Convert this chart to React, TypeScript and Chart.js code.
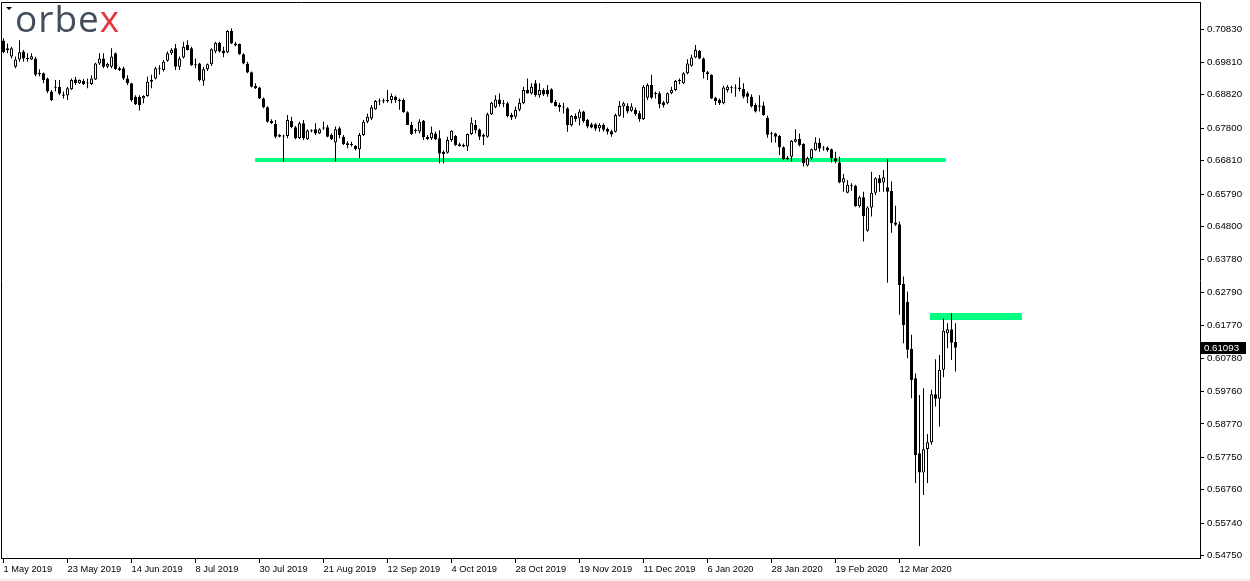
import React, { useEffect, useRef } from 'react';
import { Chart, registerables } from 'chart.js';

Chart.register(...registerables);

// ---- data ----
const xTickIndex = [0, 16, 32, 48, 64, 80, 96, 112, 128, 144, 160, 176, 192, 208, 224];
const xTickLabels = ['1 May 2019', '23 May 2019', '14 Jun 2019', '8 Jul 2019', '30 Jul 2019', '21 Aug 2019', '12 Sep 2019', '4 Oct 2019', '28 Oct 2019', '19 Nov 2019', '11 Dec 2019', '6 Jan 2020', '28 Jan 2020', '19 Feb 2020', '12 Mar 2020'];
const yTicks = [0.5475, 0.5574, 0.5676, 0.5775, 0.5877, 0.5976, 0.6078, 0.6177, 0.6279, 0.6378, 0.648, 0.6579, 0.6681, 0.678, 0.6882, 0.6981, 0.7083];

const open = [
  .7048, .7024, .6999, .6968, .6990, .7014, .6994, .6990, .6993, .6948,
  .6948, .6932, .6892, .6906, .6906, .6882, .6880, .6899, .6929, .6917,
  .6924, .6919, .6915, .6929, .6978, .6993, .6968, .6968, .7009, .6963,
  .6963, .6932, .6917, .6876, .6876, .6871, .6878, .6922, .6932, .6963,
  .6958, .6986, .7009, .7024, .6968, .6996, .7034, .7024, .6973, .6978,
  .6925, .6960, .6975, .7014, .7041, .7017, .7012, .7077, .7039, .7037,
  .7006, .6978, .6951, .6909, .6904, .6871, .6844, .6802, .6793, .6759,
  .6757, .6756, .6802, .6783, .6749, .6795, .6746, .6773, .6777, .6764,
  .6780, .6783, .6759, .6736, .6780, .6754, .6734, .6731, .6726, .6716,
  .6759, .6800, .6810, .6838, .6862, .6864, .6863, .6866, .6876, .6866,
  .6866, .6829, .6790, .6774, .6770, .6803, .6754, .6749, .6764, .6749,
  .6708, .6705, .6744, .6756, .6731, .6729, .6724, .6762, .6790, .6776,
  .6754, .6754, .6823, .6844, .6868, .6856, .6856, .6820, .6815, .6836,
  .6856, .6897, .6886, .6917, .6881, .6897, .6897, .6899, .6861, .6851,
  .6844, .6841, .6789, .6817, .6810, .6831, .6805, .6792, .6792, .6780,
  .6790, .6778, .6771, .6769, .6818, .6846, .6848, .6833, .6836, .6826,
  .6808, .6873, .6912, .6887, .6887, .6859, .6856, .6887, .6897, .6924,
  .6917, .6948, .6971, .6996, .7016, .6993, .6951, .6943, .6873, .6866,
  .6856, .6897, .6904, .6904, .6904, .6900, .6887, .6876, .6851, .6849,
  .6849, .6812, .6764, .6764, .6756, .6722, .6690, .6693, .6739, .6747,
  .6732, .6666, .6688, .6713, .6736, .6721, .6721, .6716, .6688, .6675,
  .6614, .6583, .6605, .6604, .6542, .6569, .6467, .6538, .6583, .6627,
  .6614, .6600, .6588, .6492, .6487, .6304, .6250, .6106, .6016, .5787,
  .5728, .5800, .5820, .5967, .5954, .6042, .6154, .6166, .6127
];
const high = [
  .7055, .7039, .7029, .6999, .7049, .7019, .7009, .7009, .6998, .6960,
  .6950, .6935, .6897, .6927, .6927, .6892, .6907, .6932, .6937, .6929,
  .6930, .6932, .6942, .6980, .7009, .7009, .6980, .7024, .7011, .6968,
  .6968, .6942, .6919, .6881, .6881, .6881, .6937, .6943, .6968, .6973,
  .6988, .7014, .7024, .7037, .6999, .7044, .7049, .7029, .6993, .6980,
  .6968, .6978, .7024, .7044, .7044, .7029, .7080, .7085, .7044, .7039,
  .7009, .6983, .6953, .6917, .6907, .6874, .6847, .6807, .6805, .6762,
  .6760, .6820, .6815, .6787, .6800, .6805, .6777, .6777, .6795, .6780,
  .6800, .6790, .6764, .6785, .6785, .6759, .6740, .6739, .6729, .6765,
  .6805, .6825, .6851, .6866, .6871, .6871, .6897, .6886, .6880, .6871,
  .6871, .6832, .6800, .6779, .6807, .6805, .6759, .6785, .6769, .6774,
  .6713, .6754, .6774, .6759, .6736, .6733, .6764, .6813, .6805, .6779,
  .6764, .6827, .6861, .6881, .6886, .6866, .6861, .6827, .6846, .6871,
  .6907, .6932, .6917, .6927, .6917, .6902, .6912, .6902, .6866, .6858,
  .6858, .6844, .6820, .6825, .6838, .6833, .6808, .6797, .6795, .6795,
  .6795, .6782, .6775, .6825, .6863, .6861, .6856, .6856, .6843, .6833,
  .6912, .6917, .6943, .6892, .6892, .6863, .6889, .6907, .6927, .6932,
  .6951, .6991, .7004, .7034, .7019, .6996, .6955, .6945, .6876, .6871,
  .6910, .6912, .6910, .6914, .6935, .6917, .6892, .6884, .6856, .6881,
  .6861, .6818, .6769, .6766, .6759, .6724, .6695, .6744, .6777, .6764,
  .6734, .6693, .6718, .6752, .6749, .6726, .6724, .6718, .6708, .6693,
  .6640, .6622, .6612, .6607, .6574, .6586, .6542, .6647, .6630, .6637,
  .6652, .6685, .6617, .6543, .6495, .6327, .6281, .6149, .6031, .5965,
  .5986, .5846, .5981, .6074, .6087, .6199, .6184, .6215, .6184
];
const low = [
  .7009, .7009, .6993, .6963, .6983, .6983, .6983, .6988, .6939, .6939,
  .6917, .6887, .6863, .6892, .6881, .6871, .6866, .6897, .6912, .6915,
  .6912, .6902, .6912, .6927, .6973, .6963, .6963, .6963, .6958, .6955,
  .6927, .6912, .6861, .6851, .6834, .6856, .6876, .6902, .6929, .6943,
  .6953, .6983, .7004, .6958, .6958, .6993, .7017, .6970, .6963, .6923,
  .6910, .6955, .6970, .7009, .7011, .6997, .7009, .7037, .7030, .7004,
  .6975, .6948, .6904, .6900, .6869, .6841, .6797, .6793, .6749, .6752,
  .6678, .6749, .6780, .6746, .6747, .6744, .6744, .6768, .6759, .6762,
  .6775, .6752, .6744, .6678, .6749, .6729, .6719, .6724, .6712, .6688,
  .6756, .6795, .6805, .6836, .6851, .6856, .6858, .6856, .6858, .6836,
  .6827, .6790, .6759, .6764, .6764, .6744, .6744, .6744, .6744, .6673,
  .6673, .6703, .6739, .6726, .6724, .6722, .6711, .6759, .6764, .6744,
  .6729, .6751, .6820, .6841, .6846, .6844, .6813, .6805, .6808, .6832,
  .6853, .6886, .6883, .6876, .6873, .6878, .6876, .6856, .6846, .6830,
  .6825, .6769, .6785, .6800, .6788, .6797, .6780, .6780, .6772, .6769,
  .6769, .6761, .6754, .6767, .6815, .6812, .6825, .6830, .6818, .6800,
  .6805, .6866, .6869, .6871, .6841, .6843, .6853, .6884, .6894, .6914,
  .6914, .6945, .6968, .6994, .6991, .6932, .6927, .6869, .6851, .6851,
  .6853, .6890, .6887, .6876, .6892, .6871, .6856, .6843, .6828, .6831,
  .6818, .6751, .6736, .6736, .6698, .6683, .6683, .6678, .6736, .6724,
  .6663, .6663, .6683, .6711, .6708, .6711, .6708, .6675, .6673, .6612,
  .6586, .6581, .6589, .6540, .6538, .6434, .6464, .6510, .6576, .6586,
  .6586, .6308, .6461, .6481, .6210, .6123, .6077, .5955, .5696, .5504,
  .5660, .5696, .5813, .5930, .5869, .6019, .6108, .6072, .6037
];
const close = [
  .7012, .7019, .7024, .6990, .7012, .6993, .6992, .7000, .6943, .6946,
  .6927, .6892, .6866, .6904, .6885, .6880, .6902, .6927, .6917, .6927,
  .6915, .6917, .6932, .6978, .6993, .6968, .6976, .6999, .6960, .6958,
  .6932, .6917, .6866, .6854, .6851, .6878, .6922, .6927, .6963, .6960,
  .6983, .7009, .7019, .6968, .6993, .7029, .7019, .6973, .6975, .6927,
  .6960, .6975, .7021, .7041, .7014, .7009, .7077, .7039, .7033, .7006,
  .6978, .6950, .6907, .6902, .6871, .6844, .6800, .6795, .6754, .6754,
  .6755, .6805, .6783, .6749, .6795, .6749, .6773, .6772, .6764, .6777,
  .6781, .6754, .6746, .6777, .6759, .6732, .6729, .6730, .6716, .6759,
  .6800, .6815, .6844, .6863, .6864, .6863, .6866, .6878, .6866, .6864,
  .6829, .6790, .6762, .6772, .6800, .6752, .6746, .6766, .6746, .6703,
  .6701, .6744, .6772, .6729, .6726, .6724, .6762, .6797, .6774, .6754,
  .6759, .6823, .6858, .6868, .6854, .6854, .6817, .6813, .6836, .6858,
  .6897, .6886, .6907, .6881, .6897, .6883, .6884, .6858, .6848, .6844,
  .6846, .6790, .6818, .6808, .6831, .6802, .6785, .6782, .6778, .6790,
  .6775, .6769, .6761, .6820, .6848, .6856, .6831, .6846, .6823, .6808,
  .6907, .6912, .6873, .6885, .6853, .6851, .6887, .6897, .6924, .6927,
  .6948, .6978, .6996, .7019, .6993, .6951, .6945, .6871, .6863, .6856,
  .6904, .6907, .6903, .6902, .6900, .6876, .6876, .6846, .6831, .6846,
  .6820, .6760, .6762, .6754, .6722, .6685, .6685, .6742, .6746, .6729,
  .6673, .6688, .6716, .6736, .6718, .6718, .6713, .6688, .6678, .6614,
  .6627, .6607, .6604, .6542, .6569, .6512, .6538, .6583, .6627, .6612,
  .6630, .6586, .6490, .6485, .6301, .6179, .6103, .6011, .5782, .5728,
  .5799, .5821, .5967, .5954, .6042, .6161, .6166, .6125, .61093
];

const supportLevel = 0.6683;
const supportFrom = 62.9;
const supportTo = 235.6;
const resistanceLevel = 0.6205;
const resistanceFrom = 231.6;
const resistanceTo = 254.6;

const GREEN = '#00FF7F';

export default function App() {
  const ref = useRef<HTMLCanvasElement | null>(null);

  useEffect(() => {
    const canvas = ref.current;
    if (!canvas) return;

    const bodies = open.map((o, i) => {
      const c = close[i];
      let lo = Math.min(o, c);
      let hi = Math.max(o, c);
      if (hi - lo < 0.0003) {
        const m = (hi + lo) / 2;
        lo = m - 0.00016;
        hi = m + 0.00016;
      }
      return { x: i, y: [lo, hi] };
    });
    const bodyColors = open.map((o, i) => (close[i] >= o ? '#ffffff' : '#000000'));
    const wicks = low.map((l, i) => ({ x: i, y: [l, high[i]] }));

    const decor = {
      id: 'decor',
      beforeDraw(chart: any) {
        const ctx = chart.ctx;
        ctx.save();
        ctx.fillStyle = '#ffffff';
        ctx.fillRect(0, 0, chart.width, chart.height);
        ctx.fillStyle = '#f0f0f0';
        ctx.fillRect(0, 579, chart.width, 2);
        ctx.restore();
      },
      afterDraw(chart: any) {
        const ctx = chart.ctx;
        const a = chart.chartArea;
        ctx.save();
        ctx.strokeStyle = '#000';
        ctx.lineWidth = 1;
        ctx.beginPath();
        ctx.moveTo(a.left + 0.5, a.bottom);
        ctx.lineTo(a.left + 0.5, a.top + 0.5);
        ctx.lineTo(a.right + 1, a.top + 0.5);
        ctx.stroke();

        // one-click triangle
        ctx.fillStyle = '#000';
        ctx.beginPath();
        ctx.moveTo(6, 7);
        ctx.lineTo(12, 7);
        ctx.lineTo(9, 10);
        ctx.closePath();
        ctx.fill();

        // logo
        ctx.font = '400 37px "Open Sans"';
        ctx.textBaseline = 'alphabetic';
        ctx.textAlign = 'left';
        try { (ctx as any).letterSpacing = '1px'; } catch (e) {}
        ctx.fillStyle = '#434e5d';
        const part = 'orbe';
        ctx.fillText(part, 15, 32);
        const w = ctx.measureText(part).width;
        ctx.fillStyle = '#e8323c';
        ctx.fillText('x', 15 + w, 32);
        try { (ctx as any).letterSpacing = '0px'; } catch (e) {}

        // current price label
        const last = close[close.length - 1];
        const y = Math.round(chart.scales.y.getPixelForValue(last));
        ctx.fillStyle = '#000';
        ctx.fillRect(a.right + 1, y - 6, 45, 12);
        ctx.fillStyle = '#fff';
        ctx.font = '9.7px "Liberation Sans"';
        ctx.textBaseline = 'middle';
        ctx.fillText(last.toFixed(5), a.right + 4, y + 0.5);
        ctx.restore();
      },
    };

    const chart = new Chart(canvas, {
      type: 'bar',
      data: {
        datasets: [
          {
            type: 'bar',
            label: 'body',
            data: bodies as any,
            backgroundColor: bodyColors,
            borderColor: '#000',
            borderWidth: 1,
            borderSkipped: false,
            barThickness: 3,
            grouped: false,
            inflateAmount: 0,
            order: 0,
          } as any,
          {
            type: 'bar',
            label: 'wick',
            data: wicks as any,
            backgroundColor: '#000',
            borderWidth: 0,
            barThickness: 1,
            grouped: false,
            inflateAmount: 0,
            order: 1,
          } as any,
          {
            type: 'line',
            label: 'support',
            data: [{ x: supportFrom, y: supportLevel }, { x: supportTo, y: supportLevel }],
            borderColor: GREEN,
            borderWidth: 4,
            pointRadius: 0,
            order: 2,
          } as any,
          {
            type: 'line',
            label: 'resistance',
            data: [{ x: resistanceFrom, y: resistanceLevel }, { x: resistanceTo, y: resistanceLevel }],
            borderColor: GREEN,
            borderWidth: 7,
            pointRadius: 0,
            order: 3,
          } as any,
        ],
      },
      options: {
        animation: false,
        responsive: false,
        devicePixelRatio: 1,
        events: [],
        layout: { padding: { left: 1, top: 2, right: 0, bottom: 0 } },
        plugins: { legend: { display: false }, tooltip: { enabled: false } },
        scales: {
          x: {
            type: 'linear',
            min: -0.625,
            max: 299.125,
            offset: false,
            grid: { display: true, drawOnChartArea: false, drawTicks: true, tickLength: 5, color: '#000', offset: false },
            border: { display: true, color: '#000' },
            ticks: {
              autoSkip: false,
              maxRotation: 0,
              minRotation: 0,
              align: 'start',
              padding: 1,
              color: '#000',
              font: { family: 'Liberation Sans', size: 9.3 },
              callback: (v: any) => {
                const k = xTickIndex.indexOf(Number(v));
                return k >= 0 ? xTickLabels[k] : '';
              },
            },
            afterBuildTicks: (s: any) => {
              s.ticks = xTickIndex.map((v) => ({ value: v }));
            },
            afterFit: (s: any) => {
              s.height = 23;
              s.paddingLeft = 0;
              s.paddingRight = 0;
            },
          } as any,
          y: {
            type: 'linear',
            position: 'right',
            min: 0.54672,
            max: 0.71655,
            grid: { display: true, drawOnChartArea: false, drawTicks: true, tickLength: 4, color: '#000' },
            border: { display: true, color: '#000' },
            ticks: {
              padding: 3,
              color: '#000',
              font: { family: 'Liberation Sans', size: 9.7 },
              callback: (v: any) => Number(v).toFixed(5),
            },
            afterBuildTicks: (s: any) => {
              s.ticks = yTicks.map((v) => ({ value: v }));
            },
            afterFit: (s: any) => {
              s.width = 50;
              s.paddingTop = 0;
              s.paddingBottom = 0;
            },
          } as any,
        },
      } as any,
      plugins: [decor],
    });

    return () => chart.destroy();
  }, []);

  return (
    <div style={{ position: 'absolute', left: 0, top: 0, width: 1250, height: 581, background: '#fff' }}>
      <canvas ref={ref} width={1250} height={581} style={{ display: 'block', width: 1250, height: 581 }} />
    </div>
  );
}
